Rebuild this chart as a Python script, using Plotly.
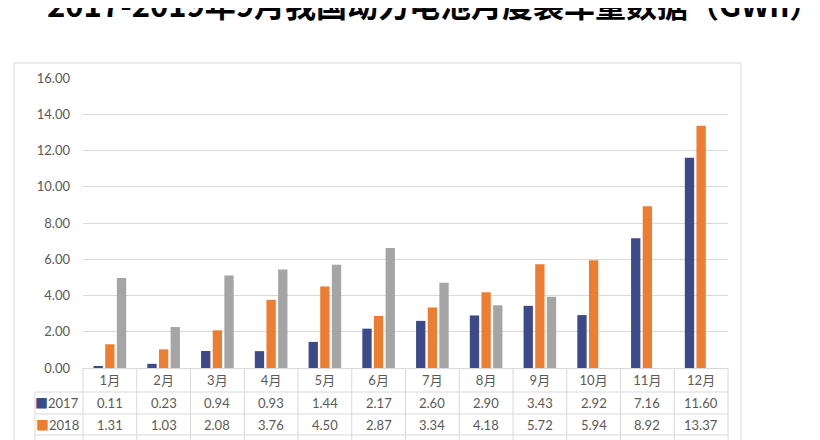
import plotly.graph_objects as go

# monthly installed power battery volume (GWh)
months = ["1月", "2月", "3月", "4月", "5月", "6月", "7月", "8月", "9月", "10月", "11月", "12月"]
years = ["2017", "2018", "2019"]
vol_2017 = [0.11, 0.23, 0.94, 0.93, 1.44, 2.17, 2.60, 2.90, 3.43, 2.92, 7.16, 11.60]
vol_2018 = [1.31, 1.03, 2.08, 3.76, 4.50, 2.87, 3.34, 4.18, 5.72, 5.94, 8.92, 13.37]
vol_2019 = [4.97, 2.26, 5.10, 5.43, 5.69, 6.62, 4.70, 3.46, 3.93, None, None, None]
y_ticks = [0, 2, 4, 6, 8, 10, 12, 14, 16]

title = "2017-2019年9月我国动力电池月度装车量数据（GWh）"
colors = ["#3C4A8A", "#ED7D31", "#A5A5A5"]
text_col = "#595959"
line_col = "#D9D9D9"
font = "Lato, 'Noto Sans CJK SC', sans-serif"

fig = go.Figure()
for yr, vals, c in zip(years, [vol_2017, vol_2018, vol_2019], colors):
    fig.add_trace(go.Bar(x=months, y=vals, name=yr, marker_color=c,
                         marker_line_width=0, showlegend=False))

# data table under the axis (Excel style); the 2019 row is cut off by the picture
row_y = [-0.1207, -0.1966]
for yr, vals, c, ry in zip(years[:2], [vol_2017, vol_2018], colors, row_y):
    fig.add_annotation(xref="paper", yref="paper", x=-0.003, y=ry, xanchor="right",
                       yanchor="middle", showarrow=False,
                       text=f"<span style='color:{c}'>■</span>{yr}",
                       font=dict(size=13, color=text_col, family=font))
    for m, v in zip(months, vals):
        if v is None:
            continue
        fig.add_annotation(xref="x", yref="paper", x=m, y=ry, xanchor="center",
                           yanchor="middle", showarrow=False, text=f"{v:.2f}",
                           font=dict(size=13, color=text_col, family=font))

left = (35 - 83) / 645
shapes = []
for ly in [-0.0828, -0.1586, -0.2310]:
    shapes.append(dict(type="line", xref="paper", yref="paper", x0=left, x1=1,
                       y0=ly, y1=ly, line=dict(color=line_col, width=1)))
for i in range(13):
    shapes.append(dict(type="line", xref="paper", yref="paper", x0=i / 12, x1=i / 12,
                       y0=0, y1=-0.35, line=dict(color=line_col, width=1)))
shapes.append(dict(type="line", xref="paper", yref="paper", x0=left, x1=left,
                   y0=-0.0828, y1=-0.35, line=dict(color=line_col, width=1)))
# chart frame
shapes.append(dict(type="rect", xref="paper", yref="paper", x0=-0.107, x1=1.0202,
                   y0=-0.4, y1=1.0517, line=dict(color=line_col, width=1)))

# title only shows its lower half in the reference
fig.add_annotation(xref="paper", yref="paper", x=0.543, y=1.172, xanchor="center",
                   yanchor="bottom", showarrow=False, text=f"<b>{title}</b>",
                   font=dict(size=31, color="black", family="'Noto Sans CJK SC'"))

# page body has an 8px margin, margins below are shifted to compensate
fig.update_layout(
    width=820, height=440,
    margin=dict(l=75, r=100, t=70, b=80),
    paper_bgcolor="white", plot_bgcolor="white",
    barmode="group", bargap=0.35, bargroupgap=0.2,
    shapes=shapes,
    font=dict(family=font, color=text_col, size=13),
)
fig.update_xaxes(showline=True, linecolor=line_col, ticks="", showgrid=False,
                 tickfont=dict(size=13, color=text_col))
fig.update_yaxes(range=[0, 16], tickvals=y_ticks, tickformat=".2f",
                 showgrid=True, gridcolor=line_col, zeroline=False,
                 ticks="", ticklabelstandoff=12,
                 tickfont=dict(size=13, color=text_col))

fig.write_html("out.html")
